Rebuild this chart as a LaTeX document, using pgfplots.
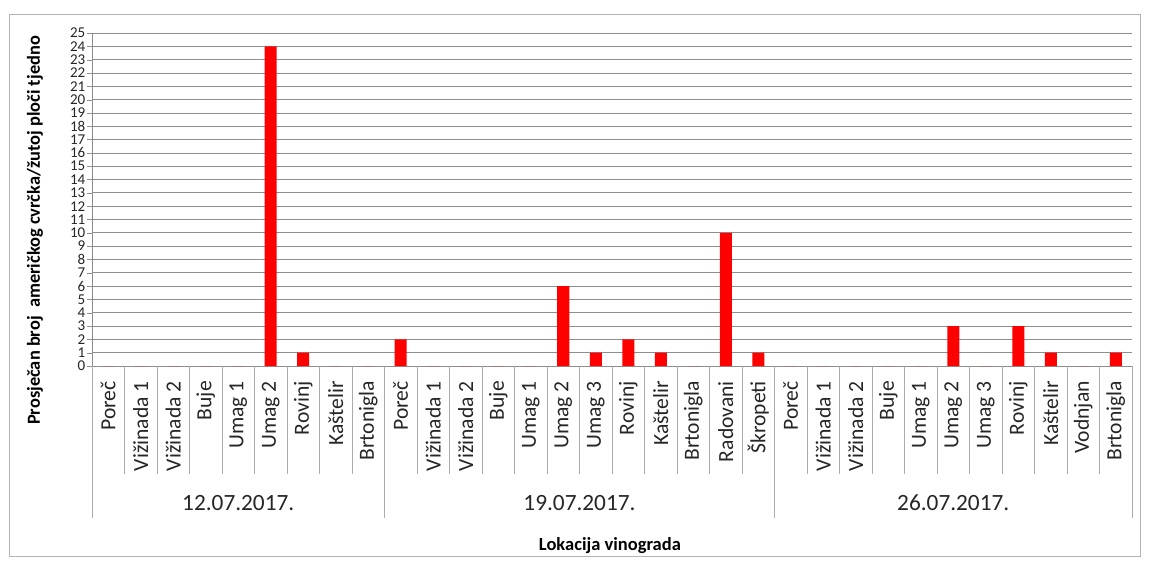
\documentclass[border=0pt]{standalone}
\usepackage{pgfplots}
\pgfplotsset{compat=1.18}
\usepackage{fontspec}
\setmainfont{Carlito}
\definecolor{gridc}{HTML}{8E8E8E}
\definecolor{sepc}{HTML}{ABABAB}
\definecolor{framec}{HTML}{B4B4B4}
\begin{document}
\begin{tikzpicture}
\useasboundingbox (-92pt,-194pt) rectangle (1057pt,366pt);
\fill[white] (-92pt,-194pt) rectangle (1057pt,366pt);
\draw[framec, line width=0.8pt] (-83pt,-190pt) rectangle (1048pt,352pt);
\begin{axis}[
  at={(0pt,0pt)}, anchor=south west,
  scale only axis, width=1040pt, height=333pt,
  xmin=-0.5, xmax=31.5, ymin=0, ymax=25,
  axis x line*=bottom, axis y line*=left,
  axis line style={gridc, -},
  ytick={0,1,...,25},
  ymajorgrids, major grid style={gridc, line width=0.7pt},
  tick align=outside, major tick length=5pt,
  ytick style={gridc},
  yticklabel style={font=\fontsize{15}{15}\selectfont, inner sep=1.5pt, text=black!85},
  /pgf/number format/assume math mode=true,
  xtick={0,...,31},
  xtick style={draw=none},
  xticklabels={Poreč,Vižinada 1,Vižinada 2,Buje,Umag 1,Umag 2,Rovinj,Kaštelir,Brtonigla,Poreč,Vižinada 1,Vižinada 2,Buje,Umag 1,Umag 2,Umag 3,Rovinj,Kaštelir,Brtonigla,Radovani,Škropeti,Poreč,Vižinada 1,Vižinada 2,Buje,Umag 1,Umag 2,Umag 3,Rovinj,Kaštelir,Vodnjan,Brtonigla},
  xticklabel style={rotate=90, anchor=east, font=\fontsize{21.6}{23}\selectfont, text=black!85, inner sep=0pt},
  xticklabel shift=10pt,
  xlabel={Lokacija vinograda},
  xlabel style={font=\bfseries\fontsize{18.5}{20}\selectfont, at={(axis description cs:0.498,-0.54)}, anchor=center},
  ylabel={Prosječan broj\ \ američkog cvrčka/žutoj ploči tjedno},
  ylabel style={font=\bfseries\fontsize{18.4}{20}\selectfont, at={(axis description cs:-0.0548,0.407)}, anchor=center},
  clip=false,
]
\addplot[ybar, bar width=12pt, fill=red, draw=none] coordinates {
(0,0) (1,0) (2,0) (3,0) (4,0) (5,24) (6,1) (7,0) (8,0)
(9,2) (10,0) (11,0) (12,0) (13,0) (14,6) (15,1) (16,2) (17,1) (18,0) (19,10) (20,1)
(21,0) (22,0) (23,0) (24,0) (25,0) (26,3) (27,0) (28,3) (29,1) (30,0) (31,1)
};
\pgfplotsinvokeforeach{0.5,1.5,2.5,3.5,4.5,5.5,6.5,7.5,9.5,10.5,11.5,12.5,13.5,14.5,15.5,16.5,17.5,18.5,19.5,21.5,22.5,23.5,24.5,25.5,26.5,27.5,28.5,29.5,30.5}{
  \draw[sepc, line width=0.7pt] (axis cs:#1,0) -- ++(0pt,-108pt);
}
\pgfplotsinvokeforeach{-0.5,8.5,20.5,31.5}{
  \draw[sepc, line width=0.7pt] (axis cs:#1,0) -- ++(0pt,-152pt);
}
\node[font=\fontsize{23.3}{25}\selectfont, text=black!85] at ([yshift=-137pt]axis cs:4,0) {12.07.2017.};
\node[font=\fontsize{23.3}{25}\selectfont, text=black!85] at ([yshift=-137pt]axis cs:14.5,0) {19.07.2017.};
\node[font=\fontsize{23.3}{25}\selectfont, text=black!85] at ([yshift=-137pt]axis cs:26,0) {26.07.2017.};
\end{axis}
\end{tikzpicture}
\end{document}
